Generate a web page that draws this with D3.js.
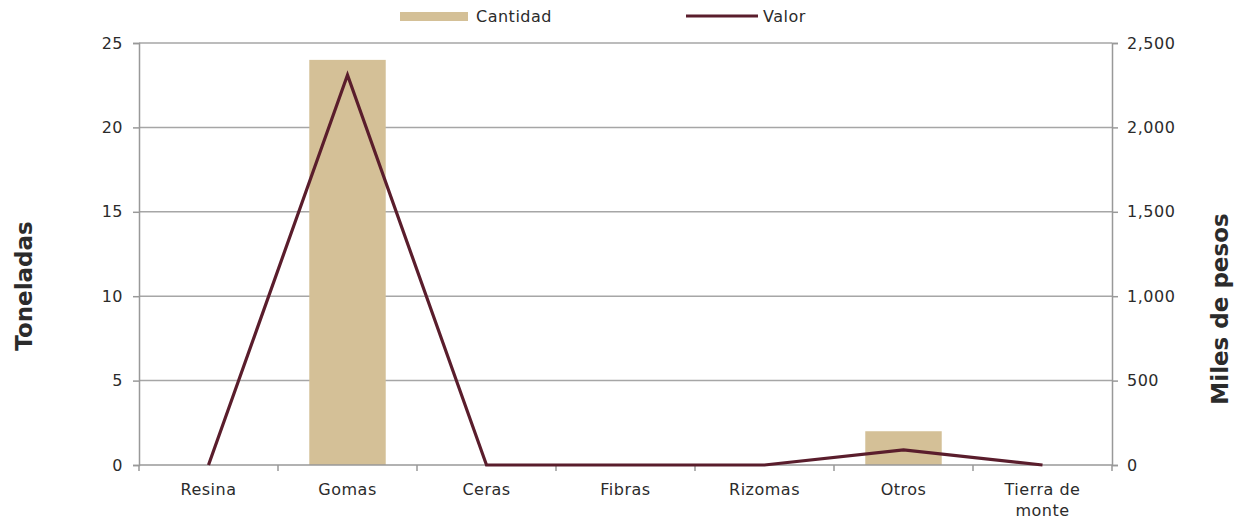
<!DOCTYPE html>
<html><head><meta charset="utf-8">
<script src="https://cdn.jsdelivr.net/npm/d3@7"></script>
<style>body{margin:0;background:#fff}svg{display:block}text{font-family:"DejaVu Sans",sans-serif;fill:#2b2b2b}</style>
</head><body><svg id="c" width="1239" height="521"></svg>
<script>
const categories = ["Resina","Gomas","Ceras","Fibras","Rizomas","Otros","Tierra de monte"];
const cantidad = [0,24,0,0,0,2,0];
const valor = [0,2310,0,0,0,90,0];
const leftTicks = [0,5,10,15,20,25];
const rightTicks = [0,500,1000,1500,2000,2500];

const svg = d3.select("#c");
const m = {l:139, r:1112, t:43, b:465};
const x = d3.scaleBand().domain(categories).range([m.l,m.r]).paddingInner(0.45).paddingOuter(0.225);
const xb = d3.scaleBand().domain(categories).range([m.l,m.r]);
const yL = d3.scaleLinear().domain([0,25]).range([m.b,m.t]);
const yR = d3.scaleLinear().domain([0,2500]).range([m.b,m.t]);

// gridlines
svg.append("g").selectAll("line").data(leftTicks.filter(d=>d>0)).join("line")
  .attr("x1",m.l).attr("x2",m.r).attr("y1",d=>yL(d)).attr("y2",d=>yL(d))
  .attr("stroke","#a6a6a6").attr("stroke-width",1.5);

// bars
svg.append("g").selectAll("rect").data(categories).join("rect")
  .attr("x",d=>x(d)).attr("width",x.bandwidth())
  .attr("y",(d,i)=>yL(cantidad[i])).attr("height",(d,i)=>m.b-yL(cantidad[i]))
  .attr("fill","#d4c097");

// axes
const fmt = d3.format(",");
const gl = svg.append("g").attr("transform",`translate(${m.l},0)`)
  .call(d3.axisLeft(yL).tickValues(leftTicks).tickSize(6).tickPadding(10));
const gr = svg.append("g").attr("transform",`translate(${m.r},0)`)
  .call(d3.axisRight(yR).tickValues(rightTicks).tickFormat(fmt).tickSize(6).tickPadding(9));
const gx = svg.append("g").attr("transform",`translate(0,${m.b})`)
  .call(d3.axisBottom(xb).tickSize(0).tickPadding(19));
[gl,gr,gx].forEach(g=>{
  g.select(".domain").attr("stroke","#999").attr("stroke-width",1.5);
  g.selectAll(".tick line").attr("stroke","#999").attr("stroke-width",1.5);
  g.selectAll("text").style("font-size","16px").style("letter-spacing","0.5px")
    .style("font-family","'DejaVu Sans',sans-serif").attr("fill","#2b2b2b");
});
gx.select(".domain").attr("d",`M${m.l},0H${m.r}`);
// category boundary ticks
svg.append("g").selectAll("line").data(d3.range(categories.length+1)).join("line")
  .attr("x1",i=>m.l+i*xb.step()).attr("x2",i=>m.l+i*xb.step())
  .attr("y1",m.b).attr("y2",m.b+6).attr("stroke","#999").attr("stroke-width",1.5);
// wrap long label
gx.selectAll(".tick text").each(function(d){
  if(d==="Tierra de monte"){
    const t=d3.select(this); t.text(null);
    t.append("tspan").attr("x",0).attr("dy","0.71em").text("Tierra de");
    t.append("tspan").attr("x",0).attr("dy","1.3em").text("monte");
    t.attr("y",19).attr("dy",null);
  }
});

// line
const line = d3.line().x((d,i)=>xb(categories[i])+xb.bandwidth()/2).y(d=>yR(d));
svg.append("path").datum(valor).attr("d",line).attr("fill","none")
  .attr("stroke","#5a1d2c").attr("stroke-width",3.2).attr("stroke-linejoin","miter");

// axis titles
svg.append("text").attr("transform","translate(32,286) rotate(-90)").attr("text-anchor","middle")
  .style("font-size","23px").style("font-weight","bold").text("Toneladas");
svg.append("text").attr("transform","translate(1228,309) rotate(-90)").attr("text-anchor","middle")
  .style("font-size","23px").style("font-weight","bold").text("Miles de pesos");

// legend
const lg = svg.append("g").style("font-size","16px").style("letter-spacing","0.5px");
lg.append("rect").attr("x",400).attr("y",12).attr("width",68).attr("height",9).attr("fill","#d4c097");
lg.append("text").attr("x",476).attr("y",22).text("Cantidad");
lg.append("line").attr("x1",686).attr("x2",758).attr("y1",16).attr("y2",16).attr("stroke","#5a1d2c").attr("stroke-width",3.2);
lg.append("text").attr("x",763).attr("y",22).text("Valor");
</script></body></html>
